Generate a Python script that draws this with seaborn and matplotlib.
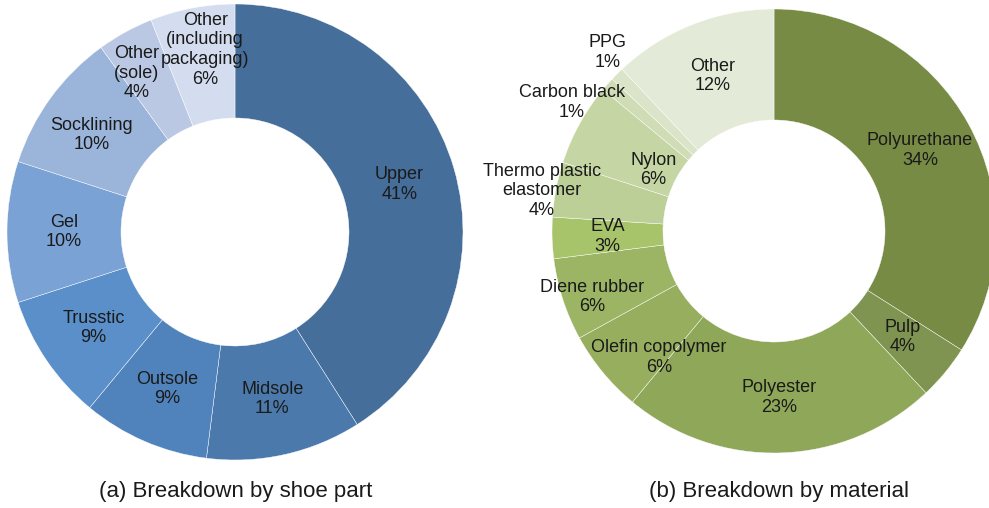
import numpy as np
import matplotlib
matplotlib.use("Agg")
import matplotlib.pyplot as plt
import seaborn as sns

sns.set_theme(style="white")
plt.rcParams['font.family'] = ['Liberation Sans', 'DejaVu Sans']

# (a) breakdown by shoe part
part_labels = ['Upper', 'Midsole', 'Outsole', 'Trusstic', 'Gel', 'Socklining',
               'Other\n(sole)', 'Other\n(including\npackaging)']
part_values = [41, 11, 9, 9, 10, 10, 4, 6]
part_colors = ['#456e9a', '#4b79ac', '#5083bc', '#5a8fc9', '#7aa2d4',
               '#9ab4da', '#bac8e3', '#d4ddef']

# (b) breakdown by material
mat_labels = ['Polyurethane', 'Pulp', 'Polyester', 'Olefin copolymer', 'Diene rubber',
              'EVA', 'Thermo plastic\nelastomer', 'Nylon', 'Carbon black', 'PPG', 'Other']
mat_values = [34, 4, 23, 6, 6, 3, 4, 6, 1, 1, 12]
mat_colors = ['#788b45', '#7f9450', '#8fa759', '#97ae5f', '#9cb564', '#a7c46b',
              '#bccf96', '#c5d5a3', '#cfdcb6', '#d9e4c8', '#e3ebd8']

# label placement tweaks: (radius factor, angle nudge in degrees)
part_tweaks = {5: (0.76, 2), 6: (0.82, 3), 7: (0.81, -1.5)}
mat_tweaks = {3: (0.77, 8), 4: (0.87, 2), 6: (1.06, 1), 7: (0.61, 2),
              8: (1.08, 9), 9: (1.10, -2)}

W, H = 989, 508
fig = plt.figure(figsize=(W / 100, H / 100), dpi=100)
ax = fig.add_axes([0, 0, 1, 1])


def donut(values, labels, colors, cx, cy, r, tweaks):
    wedges, _ = ax.pie(values, colors=colors, startangle=90, counterclock=False,
                       center=(cx, cy), radius=r, frame=True,
                       wedgeprops=dict(width=r * 0.5, edgecolor='white', linewidth=0.3))
    for i, w in enumerate(wedges):
        k, nudge = tweaks.get(i, (0.75, 0))
        ang = np.deg2rad((w.theta1 + w.theta2) / 2 + nudge)
        txt = f"{labels[i]}\n{values[i]}%"
        ax.text(cx + k * r * np.cos(ang), cy + k * r * np.sin(ang), txt,
                ha='center', va='center', fontsize=13, color='#1a1a1a',
                linespacing=1.2)


donut(part_values, part_labels, part_colors, 235, H - 232, 228, part_tweaks)
donut(mat_values, mat_labels, mat_colors, 774, H - 231, 222, mat_tweaks)
ax.set_xlim(0, W)
ax.set_ylim(0, H)
ax.set_aspect('equal')
ax.axis('off')

ax.text(236, H - 491, '(a) Breakdown by shoe part', ha='center', va='center',
        fontsize=16, color='#1a1a1a')
ax.text(779, H - 491, '(b) Breakdown by material', ha='center', va='center',
        fontsize=16, color='#1a1a1a')

fig.savefig('out.png', dpi=100, facecolor='white')
